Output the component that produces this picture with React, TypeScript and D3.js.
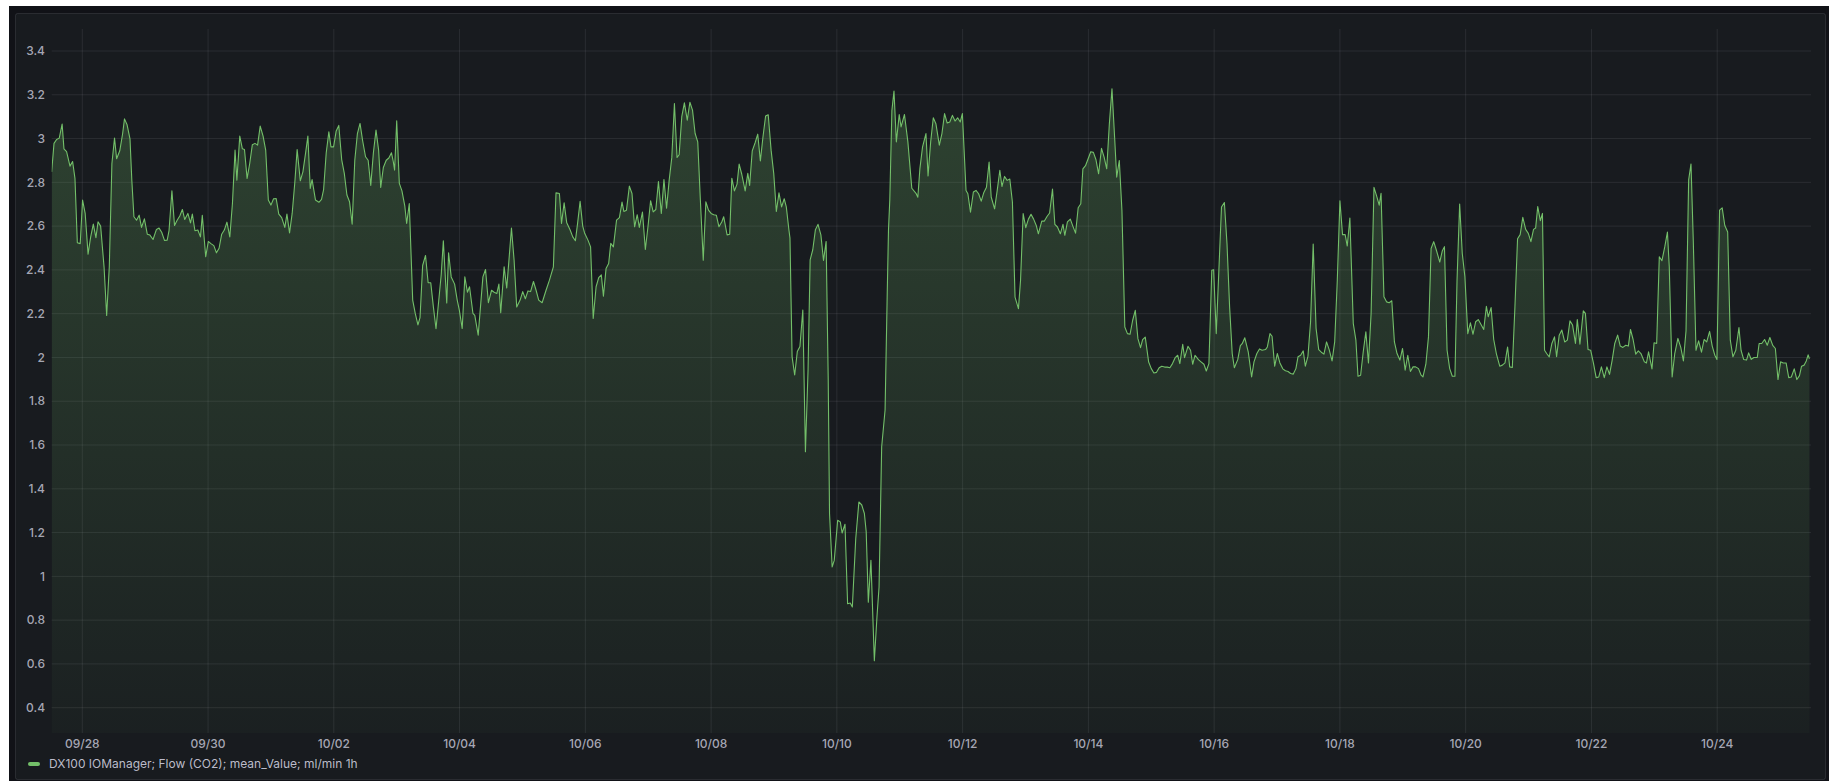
import React from "react";
import * as d3 from "d3";

// ---- DATA ----
// Hours relative to 09/28 00:00, and mean CO2 flow (ml/min, 1h means)
const flowReadings: [number, number][] = [
  [-11.7,2.848],[-10.8,2.978],[-9.8,2.996],[-8.8,3.002],[-7.7,3.066],[-7.0,2.953],[-6.0,2.94],[-4.7,2.874],[-3.7,2.895],[-2.8,2.818],[-1.9,2.524],[-0.8,2.52],[0.1,2.719],[1.1,2.658],[2.2,2.472],[3.2,2.551],[4.2,2.609],[5.2,2.547],[6.0,2.62],[7.0,2.6],[8.3,2.414],[9.3,2.192],[10.3,2.414],[11.3,2.886],[12.3,3.002],[13.1,2.908],[14.3,2.944],[15.4,3.023],[16.1,3.09],[17.1,3.063],[18.2,2.999],[18.9,2.81],[19.7,2.643],[20.7,2.627],[21.7,2.65],[22.6,2.594],[23.7,2.633],[24.8,2.563],[25.8,2.559],[27.0,2.539],[28.3,2.585],[29.3,2.591],[30.3,2.572],[31.4,2.534],[32.4,2.536],[33.1,2.579],[34.2,2.761],[35.2,2.603],[36.2,2.627],[37.2,2.646],[38.2,2.676],[39.1,2.63],[40.3,2.658],[41.3,2.615],[42.0,2.655],[43.0,2.579],[44.1,2.582],[45.1,2.551],[45.8,2.649],[47.1,2.46],[48.1,2.53],[49.1,2.52],[50.2,2.511],[51.2,2.478],[52.2,2.499],[53.2,2.563],[54.2,2.582],[55.2,2.618],[56.3,2.551],[57.3,2.703],[58.3,2.947],[59.0,2.81],[60.1,3.011],[61.1,2.953],[61.9,2.95],[62.9,2.818],[63.9,2.886],[64.9,2.972],[65.9,2.978],[66.9,2.97],[67.9,3.057],[69.0,3.011],[70.0,2.947],[71.0,2.719],[72.0,2.696],[73.0,2.725],[74.0,2.726],[75.0,2.655],[76.1,2.639],[77.3,2.594],[78.1,2.655],[79.1,2.569],[80.1,2.658],[81.1,2.798],[82.0,2.95],[83.2,2.807],[84.2,2.848],[85.2,2.932],[86.1,3.011],[87.0,2.772],[87.7,2.813],[89.0,2.719],[90.3,2.709],[91.3,2.722],[92.1,2.767],[93.1,2.935],[94.1,3.031],[94.9,2.962],[95.9,2.962],[96.9,3.035],[97.9,3.06],[99.0,2.904],[100.0,2.841],[101.0,2.742],[102.0,2.711],[103.0,2.609],[104.0,2.901],[105.0,3.023],[106.0,3.069],[107.0,2.99],[108.1,2.917],[109.1,2.901],[110.1,2.786],[111.1,2.935],[112.1,3.039],[113.1,2.947],[113.9,2.777],[114.9,2.868],[116.0,2.901],[117.0,2.911],[118.0,2.935],[118.7,2.894],[119.2,2.856],[120.0,3.081],[121.0,2.795],[122.0,2.761],[123.1,2.691],[123.8,2.612],[124.8,2.703],[126.1,2.262],[127.1,2.2],[128.1,2.149],[128.9,2.182],[129.9,2.42],[131.0,2.466],[132.0,2.341],[133.0,2.341],[134.0,2.231],[135.0,2.131],[136.3,2.292],[137.0,2.38],[137.8,2.533],[139.1,2.249],[139.8,2.478],[140.8,2.368],[142.1,2.335],[143.1,2.262],[143.9,2.216],
  [145.0,2.132],[146.0,2.368],[147.0,2.298],[147.8,2.323],[149.1,2.201],[149.8,2.192],[151.1,2.102],[152.9,2.368],[153.9,2.402],[155.0,2.25],[156.2,2.307],[157.2,2.298],[158.2,2.292],[159.0,2.335],[159.7,2.204],[161.0,2.414],[162.0,2.317],[163.8,2.591],[164.8,2.445],[165.8,2.231],[167.1,2.262],[168.1,2.301],[169.1,2.268],[170.1,2.304],[171.1,2.301],[172.2,2.347],[173.2,2.307],[174.2,2.262],[175.5,2.25],[177.0,2.307],[178.3,2.353],[179.8,2.414],[180.8,2.752],[182.1,2.749],[182.9,2.612],[183.9,2.706],[184.9,2.615],[186.2,2.582],[187.2,2.551],[188.2,2.533],[189.0,2.609],[190.0,2.713],[191.0,2.6],[191.7,2.569],[193.0,2.536],[194.0,2.505],[195.0,2.178],[196.1,2.323],[197.1,2.365],[198.1,2.377],[198.9,2.28],[199.9,2.406],[200.9,2.429],[201.7,2.521],[202.7,2.505],[203.9,2.627],[205.0,2.639],[206.0,2.71],[206.7,2.667],[207.7,2.673],[208.8,2.783],[209.8,2.749],[210.8,2.597],[211.8,2.652],[212.6,2.594],[213.8,2.664],[214.9,2.493],[215.9,2.597],[216.9,2.716],[217.9,2.665],[218.9,2.676],[219.9,2.804],[221.0,2.658],[222.0,2.813],[223.0,2.682],[224.0,2.81],[225.0,2.914],[226.0,3.16],[227.0,2.914],[227.8,2.926],[228.8,3.1],[229.8,3.163],[230.9,3.084],[231.9,3.166],[232.9,3.13],[233.9,3.023],[234.9,2.985],[235.9,2.719],[237.0,2.444],[238.0,2.711],[239.0,2.673],[240.0,2.658],[241.0,2.652],[242.0,2.65],[243.0,2.597],[244.1,2.62],[244.8,2.643],[246.1,2.56],[247.1,2.563],[247.9,2.819],[248.9,2.761],[249.9,2.792],[250.7,2.883],[251.7,2.837],[253.0,2.761],[254.0,2.841],[254.7,2.786],[255.7,2.944],[256.8,2.981],[257.8,3.02],[258.8,2.898],[259.8,3.008],[260.8,3.103],[261.8,3.109],[262.9,2.947],[263.9,2.841],[264.9,2.667],[265.9,2.752],[266.9,2.688],[267.9,2.725],[268.7,2.688],[269.7,2.582],
  [270.1,2.545],[270.9,2.004],[271.9,1.92],[272.9,2.027],[273.9,2.05],[275.0,2.217],[276.0,1.569],[277.0,1.943],[277.8,2.446],[278.8,2.492],[279.8,2.583],[280.8,2.608],[281.9,2.56],[282.9,2.443],[283.9,2.53],[284.7,1.897],[285.2,1.287],[286.2,1.043],[287.0,1.073],[288.3,1.256],[289.3,1.249],[290.0,1.198],[291.1,1.238],[292.1,0.875],[293.1,0.878],[293.9,0.86],[295.2,1.172],[296.4,1.34],[297.5,1.326],[298.5,1.287],[299.2,1.203],[300.0,0.882],[301.0,1.073],[302.3,0.615],[303.3,0.814],[304.1,0.951],[305.1,1.592],[306.4,1.76],[307.2,2.278],[307.7,2.583],[308.2,2.72],
  [309.0,3.129],[309.8,3.217],[310.7,2.985],[311.8,3.11],[312.5,3.053],[313.8,3.11],[315.1,2.985],[316.6,2.773],[318.2,2.75],[318.9,2.732],[319.7,2.864],[320.7,2.962],[322.0,3.023],[322.8,2.829],[323.8,2.985],[324.8,3.095],[325.8,3.068],[327.1,2.97],[328.1,3.023],[329.1,3.114],[330.1,3.071],[331.1,3.076],[332.1,3.106],[333.1,3.08],[334.1,3.095],[335.1,3.076],[335.9,3.114],
  [337.3,2.763],[338.0,2.748],[339.0,2.664],[340.1,2.756],[341.1,2.763],[342.1,2.748],[343.1,2.714],[344.1,2.754],[345.1,2.778],[346.1,2.893],[346.9,2.733],[348.2,2.679],[349.2,2.763],[350.2,2.855],[351.0,2.781],[352.0,2.827],[353.0,2.809],[354.0,2.815],[355.0,2.71],[356.0,2.276],[357.3,2.223],[358.1,2.352],[359.1,2.657],[360.1,2.593],[361.1,2.632],[362.1,2.654],[363.1,2.632],[364.1,2.603],[364.9,2.565],[366.2,2.623],[367.2,2.623],[368.2,2.644],[369.2,2.66],[370.3,2.769],[371.2,2.608],[372.2,2.596],[373.3,2.565],[374.3,2.608],[375.0,2.558],[376.0,2.619],[377.1,2.632],[378.1,2.599],[379.1,2.568],[380.1,2.684],[381.1,2.702],[381.9,2.862],[382.9,2.876],[383.9,2.908],[384.9,2.94],[385.9,2.937],[386.9,2.903],[387.9,2.839],[389.0,2.955],[390.0,2.915],[391.0,2.862],[392.0,3.068],[393.0,3.227],[394.0,3.007],[394.8,2.824],[395.8,2.9],[396.8,2.672],[397.9,2.139],[398.9,2.109],[399.9,2.106],[400.9,2.17],[401.9,2.215],[402.9,2.086],[403.9,2.045],[404.7,2.081],[405.7,2.093],[407.0,1.979],[408.0,1.949],[409.0,1.929],[410.0,1.932],[411.0,1.953],[412.0,1.96],[413.1,1.956],[414.1,1.956],[415.1,1.953],[416.1,1.972],[417.1,1.999],[418.1,2.01],[418.9,1.972],[420.0,2.06],[420.7,1.999],[422.0,2.051],[423.0,2.033],[423.8,1.969],[424.7,2.01],[426.0,1.99],[427.1,1.979],[428.1,1.969],[429.0,1.938],[430.0,1.972],[431.1,2.398],[431.8,2.401],[432.8,2.109],[433.8,2.398],[434.8,2.687],[435.9,2.708],[436.9,2.52],[437.9,2.23],[438.9,2.017],[439.7,1.953],[441.0,1.99],[442.0,2.054],[442.7,2.063],[443.7,2.09],
  [445.0,2.026],[446.3,1.911],[447.2,1.98],[448.3,2.018],[449.3,2.039],[450.3,2.033],[451.6,2.036],[452.3,2.048],[453.3,2.109],[454.1,2.097],[455.1,1.96],[456.1,2.018],[457.1,1.975],[458.2,1.948],[459.2,1.939],[460.2,1.936],[461.2,1.927],[462.2,1.924],[463.2,1.949],[464.0,2.003],[465.0,2.01],[466.0,2.03],[466.8,1.96],[467.8,2.006],[468.8,2.163],[469.8,2.518],[470.9,2.133],[471.9,2.036],[472.9,2.024],[473.9,2.015],[474.9,2.071],[475.9,2.036],[477.0,1.984],[478.0,2.071],[479.0,2.353],[480.0,2.716],[481.0,2.561],[482.0,2.561],[482.8,2.509],[483.8,2.637],[485.1,2.155],[486.1,2.079],[486.9,1.914],[487.9,1.919],[488.9,2.026],[489.9,2.117],[490.9,1.975],[491.9,2.201],[493.0,2.777],[494.0,2.738],[495.0,2.696],[495.7,2.75],[496.8,2.277],[497.8,2.254],[498.8,2.25],[499.8,2.259],[500.8,2.071],[501.8,2.018],[502.9,1.988],[503.9,2.041],[504.9,1.942],[505.9,2.01],[506.9,1.936],[507.9,1.957],[508.9,1.957],[510.0,1.949],[511.0,1.919],[511.7,1.911],[512.8,1.969],[513.8,2.094],[514.8,2.498],[515.8,2.529],[516.8,2.491],[518.1,2.436],[519.1,2.488],[519.9,2.506],[520.9,2.033],[521.9,1.949],[522.9,1.914],[523.9,1.914],[524.7,2.353],[525.7,2.701],[526.7,2.475],[527.7,2.369],[528.8,2.109],[529.8,2.158],[530.8,2.106],[531.8,2.163],[532.8,2.173],[533.8,2.152],[534.9,2.128],[535.9,2.234],[536.6,2.186],[537.7,2.228],[538.7,2.082],[539.7,2.018],[541.0,1.96],[542.0,1.965],[543.0,1.975],[544.0,2.048],[544.8,1.957],[545.8,1.954],[546.8,2.232],[547.8,2.542],[548.8,2.561],[549.8,2.64],[550.9,2.585],[551.9,2.567],[552.9,2.529],[553.9,2.585],[554.7,2.591],
  [555.5,2.689],[556.5,2.625],[557.3,2.658],[558.1,2.033],[558.9,2.018],[559.9,2.003],[560.9,2.064],[561.9,2.094],[562.7,2.003],[563.7,2.102],[564.7,2.125],[565.8,2.071],[566.8,2.079],[567.8,2.167],[568.8,2.148],[569.9,2.064],[570.6,2.173],[571.6,2.061],[572.9,2.213],[573.7,2.201],[574.7,2.036],[575.7,2.033],[576.8,1.972],[577.8,1.908],[578.8,1.911],[579.8,1.957],[580.9,1.908],[581.9,1.957],[582.9,1.923],[583.9,1.987],[584.9,2.064],[586.0,2.102],[587.0,2.052],[588.0,2.046],[589.1,2.056],[590.1,2.052],[590.9,2.128],[591.9,2.082],[592.9,2.015],[593.9,2.03],[594.9,2.018],[596.2,1.98],[597.0,1.975],[597.8,2.026],[599.1,1.948],[599.9,2.067],[600.9,2.064],[601.9,2.46],[602.9,2.442],[604.0,2.506],[605.0,2.573],[605.7,2.414],[606.8,1.911],[607.8,2.018],[609.0,2.087],[610.1,2.046],[611.1,1.984],[612.1,2.122],[613.1,2.811],[614.0,2.884],[614.9,2.521],[615.9,2.033],[616.9,2.076],[618.0,2.024],[619.0,2.082],[620.0,2.071],[621.1,2.119],[622.1,2.052],[623.1,2.01],[623.9,1.991],[624.9,2.673],[625.9,2.683],[626.9,2.603],[628.0,2.573],[629.0,2.079],[630.0,2.003],[631.1,2.033],[632.3,2.137],[633.1,2.033],[634.1,1.991],[635.2,1.988],[636.0,2.021],[637.0,1.991],[638.0,2.0],[639.3,2.0],[640.0,2.064],[641.0,2.064],[642.1,2.082],[643.1,2.056],[644.1,2.091],[645.2,2.055],[646.2,2.041],[647.2,1.899],[648.2,1.98],[649.2,1.975],[650.3,1.975],[651.3,1.908],[652.3,1.911],[653.4,1.948],[654.4,1.899],[655.4,1.917],[656.2,1.96],[657.2,1.965],[658.0,1.984],[658.7,2.012],[659.2,1.994],
];

const xTickDates = [
  "2023-09-28", "2023-09-30", "2023-10-02", "2023-10-04", "2023-10-06",
  "2023-10-08", "2023-10-10", "2023-10-12", "2023-10-14", "2023-10-16",
  "2023-10-18", "2023-10-20", "2023-10-22", "2023-10-24",
];
const yTicks = [0.4, 0.6, 0.8, 1, 1.2, 1.4, 1.6, 1.8, 2, 2.2, 2.4, 2.6, 2.8, 3, 3.2, 3.4];
const seriesName = "DX100 IOManager; Flow (CO2); mean_Value; ml/min 1h";
const timeRangeHours: [number, number] = [-11.68, 659.8];

// ---- LAYOUT ----
const W = 1829;
const H = 781;
const plotLeft = 51.7;
const plotRight = 1811;
const plotTop = 29;
const plotBottom = 733;
const LINE = "#73bf69";
const FONT = "Inter, 'Noto Sans', sans-serif";

const baseMs = new Date(2023, 8, 28, 0, 0, 0).getTime();
const toDate = (h: number) => new Date(baseMs + h * 3600 * 1000);
const parseDay = (s: string) => {
  const [y, m, d] = s.split("-").map(Number);
  return new Date(y, m - 1, d);
};

export default function App() {
  const x = d3
    .scaleTime()
    .domain([toDate(timeRangeHours[0]), toDate(timeRangeHours[1])])
    .range([plotLeft, plotRight]);
  const y = d3.scaleLinear().domain([0.4, 3.4]).range([707.7, 51]);

  const pts = flowReadings.map(([h, v]) => ({ t: toDate(h), v }));
  const line = d3
    .line<{ t: Date; v: number }>()
    .x((d) => x(d.t))
    .y((d) => y(d.v));
  const area = d3
    .area<{ t: Date; v: number }>()
    .x((d) => x(d.t))
    .y0(plotBottom)
    .y1((d) => y(d.v));
  const fmt = d3.timeFormat("%m/%d");
  const grid = "rgba(204,204,220,0.1)";
  const label = "rgba(204,204,220,0.8)";

  return (
    <svg
      width={W}
      height={H}
      style={{ position: "absolute", left: 0, top: 0, background: "#ffffff" }}
      fontFamily={FONT}
    >
      <defs>
        <linearGradient id="fillGrad" gradientUnits="userSpaceOnUse" x1="0" y1={plotTop} x2="0" y2={plotBottom}>
          <stop offset="0%" stopColor={LINE} stopOpacity={0.26} />
          <stop offset="100%" stopColor={LINE} stopOpacity={0.03} />
        </linearGradient>
        <clipPath id="plotClip">
          <rect x={plotLeft} y={plotTop} width={plotRight - plotLeft} height={plotBottom - plotTop} />
        </clipPath>
      </defs>
      <rect x={9} y={6} width={W - 9} height={H - 6} fill="#111217" />
      <rect x={15.5} y={13.5} width={1810} height={766} rx={2} fill="#181b1f" stroke="rgba(204,204,220,0.12)" />

      {yTicks.map((t) => (
        <line key={"gy" + t} x1={plotLeft} x2={plotRight} y1={y(t)} y2={y(t)} stroke={grid} strokeWidth={1} />
      ))}
      {xTickDates.map((s) => {
        const d = parseDay(s);
        return (
          <line key={"gx" + s} x1={x(d)} x2={x(d)} y1={plotTop} y2={plotBottom} stroke={grid} strokeWidth={1} />
        );
      })}

      <g clipPath="url(#plotClip)">
        <path d={area(pts) || ""} fill="url(#fillGrad)" />
        <path d={line(pts) || ""} fill="none" stroke={LINE} strokeWidth={1.1} strokeLinejoin="round" />
      </g>

      {yTicks.map((t) => (
        <text key={"ty" + t} x={45} y={y(t)} dy="0.35em" textAnchor="end" fontSize={12} fontWeight={500} fill={label}>
          {String(+t.toFixed(1))}
        </text>
      ))}
      {xTickDates.map((s) => {
        const d = parseDay(s);
        return (
          <text key={"tx" + s} x={x(d)} y={747.5} textAnchor="middle" fontSize={12} fontWeight={500} fill={label}>
            {fmt(d)}
          </text>
        );
      })}

      <rect x={28} y={762} width={12} height={4} rx={2} fill={LINE} />
      <text x={49} y={767.5} fontSize={12} fill="rgba(204,204,220,0.92)">
        {seriesName}
      </text>
    </svg>
  );
}
